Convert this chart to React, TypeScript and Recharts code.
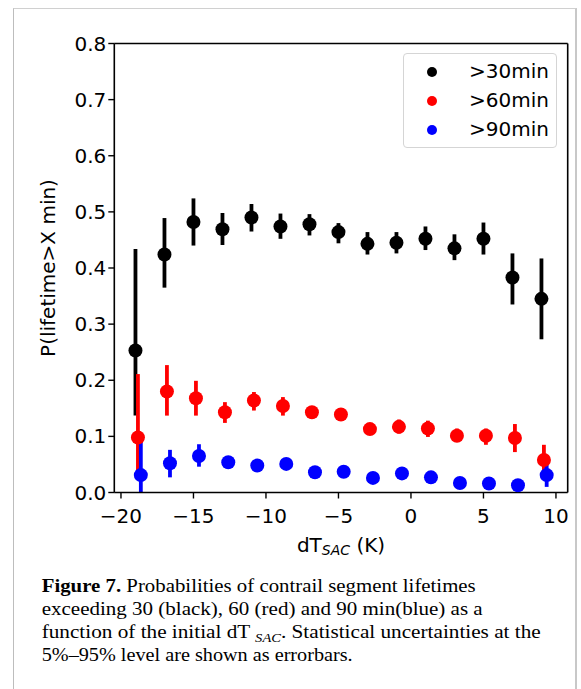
import React from "react";
import {
  ScatterChart,
  Scatter,
  XAxis,
  YAxis,
  ErrorBar,
  Legend,
  Label,
  ReferenceLine,
} from "recharts";

// dT_SAC bin centres (K); each series is shifted slightly so the bars don't overlap
const dT30 = [-19, -17, -15, -13, -11, -9, -7, -5, -3, -1, 1, 3, 5, 7, 9];
const dT60 = [-18.83, -16.83, -14.83, -12.83, -10.83, -8.83, -6.83, -4.83, -2.83, -0.83, 1.17, 3.17, 5.17, 7.17, 9.17];
const dT90 = [-18.63, -16.62, -14.62, -12.6, -10.6, -8.6, -6.62, -4.64, -2.62, -0.62, 1.38, 3.38, 5.38, 7.38, 9.36];

// P(lifetime > X min)
const p30 = [0.253, 0.424, 0.482, 0.469, 0.49, 0.474, 0.478, 0.464, 0.443, 0.445, 0.452, 0.435, 0.452, 0.383, 0.345];
const p60 = [0.098, 0.18, 0.168, 0.143, 0.164, 0.154, 0.143, 0.139, 0.113, 0.117, 0.114, 0.101, 0.101, 0.097, 0.058];
const p90 = [0.031, 0.052, 0.065, 0.054, 0.048, 0.051, 0.036, 0.037, 0.026, 0.034, 0.027, 0.017, 0.016, 0.013, 0.031];

// 5%-95% uncertainties: [below, above]
const err30: Array<[number, number]> = [
  [0.116, 0.181], [0.059, 0.065], [0.042, 0.042], [0.028, 0.029], [0.025, 0.024],
  [0.022, 0.023], [0.02, 0.018], [0.02, 0.016], [0.019, 0.021], [0.019, 0.019],
  [0.02, 0.022], [0.021, 0.025], [0.028, 0.029], [0.048, 0.043], [0.072, 0.072],
];
const err60: Array<[number, number]> = [
  [0.067, 0.113], [0.043, 0.047], [0.031, 0.031], [0.019, 0.018], [0.018, 0.015],
  [0.017, 0.016], [0.01, 0.01], [0.01, 0.01], [0.009, 0.009], [0.012, 0.013],
  [0.015, 0.014], [0.011, 0.013], [0.016, 0.013], [0.025, 0.025], [0.024, 0.027],
];
const err90: Array<[number, number]> = [
  [0.031, 0.067], [0.025, 0.024], [0.019, 0.021], [0.009, 0.009], [0.008, 0.008],
  [0.008, 0.008], [0.007, 0.007], [0.007, 0.007], [0.007, 0.007], [0.008, 0.008],
  [0.008, 0.008], [0.007, 0.007], [0.007, 0.007], [0.007, 0.007], [0.021, 0.02],
];

const xTicks = [-20, -15, -10, -5, 0, 5, 10];
const yTicks = [0, 0.1, 0.2, 0.3, 0.4, 0.5, 0.6, 0.7, 0.8];
const xDomain = [-20.46, 10.81];
const yDomain = [0, 0.8];

const series = [
  { name: ">30min", color: "#000000", x: dT30, y: p30, err: err30 },
  { name: ">60min", color: "#ff0000", x: dT60, y: p60, err: err60 },
  { name: ">90min", color: "#0000ff", x: dT90, y: p90, err: err90 },
];

const FONT = "'DejaVu Sans', sans-serif";
const SERIF = "'Liberation Serif', 'DejaVu Serif', serif";
const FS = 20;

const fmtX = (v: number) => (v < 0 ? `\u2212${Math.abs(v)}` : `${v}`);

const Dot = (color: string) => (props: any) =>
  <circle cx={props.cx} cy={props.cy} r={7} fill={color} />;

const renderLegend = () => (
  <div
    style={{
      width: 154,
      height: 95,
      boxSizing: "border-box",
      border: "1px solid #d5d5d5",
      borderRadius: 4,
      background: "rgba(255,255,255,0.8)",
      paddingTop: 3,
      fontFamily: FONT,
      fontSize: FS,
      color: "#000",
    }}
  >
    {series.map((s) => (
      <div key={s.name} style={{ height: 29, position: "relative" }}>
        <span
          style={{
            position: "absolute",
            left: 23,
            top: 9.5,
            width: 10,
            height: 10,
            borderRadius: 5,
            background: s.color,
          }}
        />
        <span style={{ position: "absolute", left: 65, top: 2, lineHeight: "24px" }}>
          {s.name}
        </span>
      </div>
    ))}
  </div>
);

const XLabel = (props: any) => {
  const vb = props.viewBox;
  return (
    <text x={vb.x + vb.width / 2} y={552} textAnchor="middle" fontFamily={FONT} fontSize={FS} fill="#000">
      dT
      <tspan fontSize={14} fontStyle="italic" dy={3}>SAC</tspan>
      <tspan dy={-3}> (K)</tspan>
    </text>
  );
};

const YLabel = (props: any) => {
  const vb = props.viewBox;
  const cy = vb.y + vb.height / 2;
  return (
    <text transform={`translate(55, ${cy}) rotate(-90)`} textAnchor="middle" fontFamily={FONT} fontSize={FS} fill="#000">
      P(lifetime&gt;X min)
    </text>
  );
};

export default function App() {
  const axisLine = { stroke: "#000", strokeWidth: 1.6 };
  const tickLine = { stroke: "#000", strokeWidth: 1.4 };
  const tickStyle = { fill: "#000", fontSize: FS, fontFamily: FONT };

  return (
    <div style={{ position: "absolute", left: 0, top: 0, width: 581, height: 689, background: "#fff", overflow: "hidden" }}>
      <div
        style={{
          position: "absolute",
          left: 13,
          top: 8,
          width: 561,
          height: 700,
          borderLeft: "1px solid #bdbdbd",
          borderTop: "1px solid #d0d0d0",
          borderRight: "2px solid #c8c8c8",
        }}
      />
      <div style={{ position: "absolute", left: 0, top: 0 }}>
        <ScatterChart width={581} height={560} margin={{ top: 43.5, right: 13.3, bottom: 7.5, left: 0 }}>
          <XAxis
            type="number"
            dataKey="x"
            domain={xDomain}
            ticks={xTicks}
            tickFormatter={fmtX}
            allowDataOverflow
            height={60}
            axisLine={axisLine}
            tickLine={tickLine}
            tickSize={6}
            tickMargin={10.5}
            tick={tickStyle}
          >
            <Label content={XLabel} />
          </XAxis>
          <YAxis
            type="number"
            dataKey="y"
            domain={yDomain}
            ticks={yTicks}
            tickFormatter={(v: number) => v.toFixed(1)}
            allowDataOverflow
            width={114.3}
            axisLine={axisLine}
            tickLine={tickLine}
            tickSize={6}
            tickMargin={2}
            tick={tickStyle}
          >
            <Label content={YLabel} />
          </YAxis>
          {/* top and right spines */}
          <ReferenceLine y={yDomain[1]} stroke="#000" strokeWidth={1.6} ifOverflow="visible" />
          <ReferenceLine x={xDomain[1]} stroke="#000" strokeWidth={1.6} ifOverflow="visible" />
          {series.map((s) => (
            <Scatter
              key={s.name}
              name={s.name}
              data={s.x.map((x, i) => ({ x, y: s.y[i], err: s.err[i] }))}
              fill={s.color}
              shape={Dot(s.color)}
              isAnimationActive={false}
            >
              <ErrorBar dataKey="err" direction="y" width={0} stroke={s.color} strokeWidth={3.8} />
            </Scatter>
          ))}
          <Legend
            layout="vertical"
            align="center"
            verticalAlign="middle"
            content={renderLegend}
            wrapperStyle={{ position: "absolute", left: 403, top: 53, width: 154, height: 95 }}
          />
        </ScatterChart>
      </div>
      <svg width={581} height={689} style={{ position: "absolute", left: 0, top: 0, pointerEvents: "none" }}>
        <g fontFamily={SERIF} fontSize={19} fill="#000">
          <text x={41.7} y={591.5} textLength={434} lengthAdjust="spacingAndGlyphs">
            <tspan fontWeight="bold">Figure 7.</tspan> Probabilities of contrail segment lifetimes
          </text>
          <text x={41.7} y={615} textLength={441} lengthAdjust="spacingAndGlyphs">
            exceeding 30 (black), 60 (red) and 90 min(blue) as a
          </text>
          <text x={41.7} y={638} textLength={499} lengthAdjust="spacingAndGlyphs">
            function of the initial dT <tspan fontSize={13} fontStyle="italic" dy={3.5}>SAC</tspan>
            <tspan dy={-3.5}>. Statistical uncertainties at the</tspan>
          </text>
          <text x={41.7} y={661} textLength={311} lengthAdjust="spacingAndGlyphs">
            5%–95% level are shown as errorbars.
          </text>
        </g>
      </svg>
    </div>
  );
}
